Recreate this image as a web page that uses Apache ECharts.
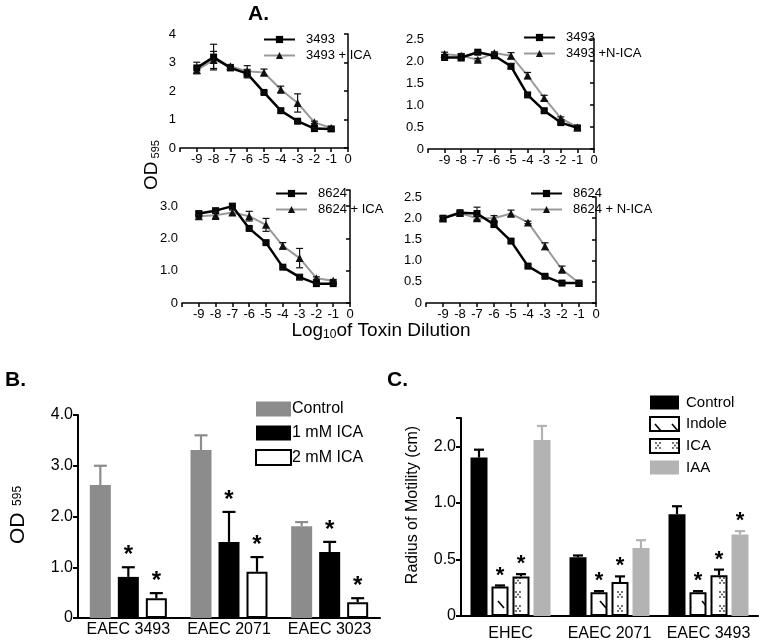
<!DOCTYPE html>
<html><head><meta charset="utf-8">
<script src="https://cdn.jsdelivr.net/npm/echarts@6/dist/echarts.min.js"></script>
<style>html,body{margin:0;padding:0;background:#fff}#c{width:759px;height:644px}</style>
</head><body><div id="c"></div><script>
const FONT = '"Liberation Sans", Arial, Helvetica, sans-serif';

// ---------- Panel A data ----------
const dilution = [-9, -8, -7, -6, -5, -4, -3, -2, -1];
const a3493 = [2.81, 3.19, 2.81, 2.61, 1.95, 1.31, 0.94, 0.68, 0.67];
const a3493Err = [0.2, 0.45, 0.05, 0.15, 0.04, 0.06, 0.04, 0.03, 0.03];
const a3493ICA = [2.73, 3.09, 2.87, 2.69, 2.65, 2.05, 1.58, 0.9, 0.7];
const a3493ICAErr = [0.1, 0.3, 0.06, 0.2, 0.12, 0.12, 0.32, 0.04, 0.04];

const b3493 = [2.08, 2.08, 2.2, 2.12, 1.88, 1.23, 0.87, 0.6, 0.48];
const b3493Err = [0.05, 0.08, 0.03, 0.04, 0.06, 0.04, 0.03, 0.03, 0.05];
const b3493NICA = [2.16, 2.12, 2.03, 2.18, 2.12, 1.67, 1.16, 0.7, 0.49];
const b3493NICAErr = [0.04, 0.05, 0.03, 0.03, 0.07, 0.07, 0.06, 0.03, 0.04];

const c8624 = [2.77, 2.86, 3.0, 2.31, 1.87, 1.11, 0.8, 0.6, 0.6];
const c8624Err = [0.06, 0.06, 0.05, 0.04, 0.04, 0.04, 0.07, 0.03, 0.03];
const c8624ICA = [2.69, 2.72, 2.8, 2.69, 2.42, 1.77, 1.39, 0.77, 0.69];
const c8624ICAErr = [0.05, 0.13, 0.08, 0.15, 0.2, 0.1, 0.3, 0.04, 0.04];

const d8624 = [2.0, 2.13, 2.11, 1.85, 1.46, 0.87, 0.63, 0.47, 0.47];
const d8624Err = [0.05, 0.04, 0.15, 0.04, 0.03, 0.03, 0.03, 0.03, 0.03];
const d8624NICA = [1.99, 2.12, 2.0, 2.0, 2.11, 1.9, 1.34, 0.79, 0.47];
const d8624NICAErr = [0.05, 0.04, 0.06, 0.06, 0.08, 0.03, 0.08, 0.08, 0.03];

const aNames = [
  ['3493', '3493 + ICA'],
  ['3493', '3493 +N-ICA'],
  ['8624', '8624 + ICA'],
  ['8624', '8624 + N-ICA']
];
const aBlack = [a3493, b3493, c8624, d8624];
const aBlackErr = [a3493Err, b3493Err, c8624Err, d8624Err];
const aGray = [a3493ICA, b3493NICA, c8624ICA, d8624NICA];
const aGrayErr = [a3493ICAErr, b3493NICAErr, c8624ICAErr, d8624NICAErr];
const aYMax = [4, 2.5, 3.5, 2.5];
const aYInterval = [1, 0.5, 1, 0.5];

// ---------- Panel B data ----------
const bCategories = ['EAEC 3493', 'EAEC 2071', 'EAEC 3023'];
const bSeriesNames = ['Control', '1 mM ICA', '2 mM ICA'];
const bControl = [2.62, 3.31, 1.81];
const bControlErrTop = [3.0, 3.6, 1.89];
const b1mM = [0.81, 1.5, 1.3];
const b1mMErrTop = [1.0, 2.09, 1.5];
const b2mM = [0.39, 0.91, 0.31];
const b2mMErrTop = [0.49, 1.2, 0.39];
const bSig = [[0, 0, 0], [1, 1, 1], [1, 1, 1]];
const bYTicks = ['0', '1.0', '2.0', '3.0', '4.0'];

// ---------- Panel C data (real units; axis shows 0, 0.5, 1.0, 2.0 evenly spaced) ----------
const cCategories = ['EHEC', 'EAEC 2071', 'EAEC 3493'];
const cSeriesNames = ['Control', 'Indole', 'ICA', 'IAA'];
const cControl = [1.80, 0.52, 0.90];
const cControlErrTop = [1.94, 0.535, 0.97];
const cIndole = [0.26, 0.21, 0.21];
const cIndoleErrTop = [0.27, 0.22, 0.22];
const cICA = [0.35, 0.30, 0.36];
const cICAErrTop = [0.37, 0.35, 0.41];
const cIAA = [2.11, 0.60, 0.72];
const cIAAErrTop = [2.36, 0.67, 0.75];
const cSig = [[0, 0, 0], [1, 1, 1], [1, 1, 1], [0, 0, 1]];
const cYTicks = ['0', '0.5', '1.0', '2.0'];

// piecewise scale of panel C's y axis: 1.0..2.0 occupies same length as 0.5
const toDisp = v => v <= 1 ? v : 1 + (v - 1) / 2;

// ---------- patterns ----------
function hatchPattern() {
  const c = document.createElement('canvas'); c.width = 17; c.height = 22;
  const g = c.getContext('2d'); g.fillStyle = '#fff'; g.fillRect(0, 0, 17, 22);
  g.strokeStyle = '#000'; g.lineWidth = 1.6; g.beginPath(); g.moveTo(5, 7); g.lineTo(11, 14); g.stroke();
  return c;
}
function dotPattern() {
  const c = document.createElement('canvas'); c.width = 17; c.height = 14;
  const g = c.getContext('2d'); g.fillStyle = '#fff'; g.fillRect(0, 0, 17, 14);
  g.fillStyle = '#333';
  [[6, 4], [10, 4], [8, 6.5], [6, 9], [10, 9]].forEach(p => { g.beginPath(); g.arc(p[0], p[1], 0.9, 0, Math.PI * 2); g.fill(); });
  return c;
}
const hatchImg = hatchPattern();
const dotImg = dotPattern();

// ---------- layout ----------
const gridsA = [
  { left: 180, top: 34, width: 168, height: 114 },
  { left: 428, top: 39, width: 166, height: 110 },
  { left: 182, top: 190, width: 168, height: 113 },
  { left: 426, top: 197, width: 170, height: 106 }
];
const gridB = { left: 78, top: 415, width: 302, height: 203 };
const gridC = { left: 461, top: 418, width: 297, height: 198 };

const grids = gridsA.concat([gridB, gridC]);
const xAxes = [], yAxes = [], series = [];

gridsA.forEach((g, i) => {
  xAxes.push({
    gridIndex: i, type: 'value', min: -10, max: 0, interval: 1,
    axisLine: { lineStyle: { color: '#000', width: 1.5 } },
    axisTick: { length: 4, lineStyle: { color: '#000', width: 1.5 } },
    splitLine: { show: false },
    axisLabel: { color: '#000', fontFamily: FONT, fontSize: 13, margin: 5,
      formatter: v => v === -10 ? '' : String(v) }
  });
  yAxes.push({
    gridIndex: i, type: 'value', min: 0, max: aYMax[i], interval: aYInterval[i],
    axisLine: { show: true, lineStyle: { color: '#000', width: 1.5 } },
    axisTick: { show: true, length: 4, lineStyle: { color: '#000', width: 1.5 } },
    splitLine: { show: false },
    axisLabel: { color: '#000', fontFamily: FONT, fontSize: 13, margin: 4,
      formatter: v => {
        if (v === 0) return '0';
        if (Math.abs(v / aYInterval[i] - Math.round(v / aYInterval[i])) > 1e-6) return '';
        return i === 0 ? String(v) : v.toFixed(1);
      } }
  });
  series.push({
    name: aNames[i][1], type: 'line', xAxisIndex: i, yAxisIndex: i,
    data: dilution.map((x, k) => [x, aGray[i][k]]),
    symbol: 'triangle', symbolSize: 8,
    lineStyle: { color: '#9a9a9a', width: 2 }, itemStyle: { color: '#111' }, z: 2
  });
  series.push({
    name: aNames[i][0], type: 'line', xAxisIndex: i, yAxisIndex: i,
    data: dilution.map((x, k) => [x, aBlack[i][k]]),
    symbol: 'rect', symbolSize: 7,
    lineStyle: { color: '#000', width: 2.5 }, itemStyle: { color: '#000' }, z: 3
  });
  const errData = [];
  dilution.forEach((x, k) => {
    errData.push([x, aBlack[i][k] - aBlackErr[i][k], aBlack[i][k] + aBlackErr[i][k]]);
    errData.push([x, aGray[i][k] - aGrayErr[i][k], aGray[i][k] + aGrayErr[i][k]]);
  });
  series.push({
    type: 'custom', xAxisIndex: i, yAxisIndex: i, data: errData, z: 4, silent: true,
    renderItem: (params, api) => {
      const x = api.value(0);
      const lo = api.coord([x, api.value(1)]), hi = api.coord([x, api.value(2)]);
      const st = { stroke: '#111', lineWidth: 1.2 };
      return { type: 'group', children: [
        { type: 'line', shape: { x1: lo[0], y1: lo[1], x2: hi[0], y2: hi[1] }, style: st },
        { type: 'line', shape: { x1: hi[0] - 3.5, y1: hi[1], x2: hi[0] + 3.5, y2: hi[1] }, style: st },
        { type: 'line', shape: { x1: lo[0] - 3.5, y1: lo[1], x2: lo[0] + 3.5, y2: lo[1] }, style: st }
      ] };
    }
  });
});

// ---------- Panel B ----------
xAxes.push({
  gridIndex: 4, type: 'category', data: bCategories,
  axisLine: { lineStyle: { color: '#000', width: 2 } },
  axisTick: { alignWithLabel: true, length: 5, lineStyle: { color: '#000', width: 2 } },
  axisLabel: { color: '#000', fontFamily: FONT, fontSize: 16, margin: 4, interval: 0 }
});
yAxes.push({
  gridIndex: 4, type: 'value', min: 0, max: 4, interval: 1,
  axisLine: { show: true, lineStyle: { color: '#000', width: 2 } },
  axisTick: { show: true, length: 5, lineStyle: { color: '#000', width: 2 } },
  splitLine: { show: false },
  axisLabel: { color: '#000', fontFamily: FONT, fontSize: 16, margin: 5,
    formatter: v => bYTicks[Math.round(v)] }
});
const bVals = [bControl, b1mM, b2mM];
const bTops = [bControlErrTop, b1mMErrTop, b2mMErrTop];
const bStyles = [
  { color: '#8c8c8c' },
  { color: '#000' },
  { color: '#fff', borderColor: '#000', borderWidth: 2 }
];
const bErrColor = ['#8c8c8c', '#000', '#000'];
const B_BAR = 21, B_GAP = 7;
bVals.forEach((vals, s) => {
  series.push({
    name: 'B ' + bSeriesNames[s], type: 'bar', xAxisIndex: 4, yAxisIndex: 4,
    data: vals, barWidth: B_BAR, barGap: (B_GAP / B_BAR * 100) + '%',
    itemStyle: bStyles[s], z: 2
  });
});
const bErrData = [];
bVals.forEach((vals, s) => vals.forEach((v, c) => bErrData.push([c, s, v, bTops[s][c], bSig[s][c]])));
series.push({
  type: 'custom', xAxisIndex: 4, yAxisIndex: 4, data: bErrData, z: 1, silent: true,
  renderItem: (params, api) => {
    const c = api.value(0), s = api.value(1);
    const base = api.coord([c, api.value(2)]), top = api.coord([c, api.value(3)]);
    const x = base[0] + (s - 1) * (B_BAR + B_GAP);
    const st = { stroke: bErrColor[s], lineWidth: 2.2 };
    const ch = [
      { type: 'line', shape: { x1: x, y1: base[1], x2: x, y2: top[1] }, style: st },
      { type: 'line', shape: { x1: x - 6.5, y1: top[1], x2: x + 6.5, y2: top[1] }, style: st }
    ];
    if (api.value(4)) ch.push({ type: 'text', x: x, y: top[1] - 12,
      style: { text: '*', font: 'bold 24px ' + FONT, fill: '#000', align: 'center', verticalAlign: 'middle' } });
    return { type: 'group', children: ch };
  }
});

// ---------- Panel C ----------
xAxes.push({
  gridIndex: 5, type: 'category', data: cCategories,
  axisLine: { lineStyle: { color: '#000', width: 2 } },
  axisTick: { alignWithLabel: true, length: 5, lineStyle: { color: '#000', width: 2 } },
  axisLabel: { color: '#000', fontFamily: FONT, fontSize: 16, margin: 10, interval: 0 }
});
yAxes.push({
  gridIndex: 5, type: 'value', min: 0, max: 1.75, interval: 0.5,
  axisLine: { show: true, lineStyle: { color: '#000', width: 2 } },
  axisTick: { show: true, length: 5, lineStyle: { color: '#000', width: 2 } },
  splitLine: { show: false },
  axisLabel: { color: '#000', fontFamily: FONT, fontSize: 16, margin: 5,
    formatter: v => { const k = Math.round(v / 0.5); return Math.abs(v - k * 0.5) < 1e-6 ? (cYTicks[k] || '') : ''; } }
});
const cVals = [cControl, cIndole, cICA, cIAA];
const cTops = [cControlErrTop, cIndoleErrTop, cICAErrTop, cIAAErrTop];
const cStyles = [
  { color: '#000' },
  { color: { image: hatchImg, repeat: 'repeat' }, borderColor: '#000', borderWidth: 2 },
  { color: { image: dotImg, repeat: 'repeat' }, borderColor: '#000', borderWidth: 2 },
  { color: '#b3b3b3' }
];
const cErrColor = ['#000', '#000', '#000', '#b3b3b3'];
const C_BAR = 17, C_GAP = 4;
cVals.forEach((vals, s) => {
  series.push({
    name: 'C ' + cSeriesNames[s], type: 'bar', xAxisIndex: 5, yAxisIndex: 5,
    data: vals.map(toDisp), barWidth: C_BAR, barGap: (C_GAP / C_BAR * 100) + '%',
    itemStyle: cStyles[s], z: 2
  });
});
const cErrData = [];
cVals.forEach((vals, s) => vals.forEach((v, c) => cErrData.push([c, s, toDisp(v), toDisp(cTops[s][c]), cSig[s][c]])));
series.push({
  type: 'custom', xAxisIndex: 5, yAxisIndex: 5, data: cErrData, z: 1, silent: true,
  renderItem: (params, api) => {
    const c = api.value(0), s = api.value(1);
    const base = api.coord([c, api.value(2)]), top = api.coord([c, api.value(3)]);
    const x = base[0] + (s - 1.5) * (C_BAR + C_GAP);
    const st = { stroke: cErrColor[s], lineWidth: 2.2 };
    const ch = [
      { type: 'line', shape: { x1: x, y1: base[1], x2: x, y2: top[1] }, style: st },
      { type: 'line', shape: { x1: x - 5, y1: top[1], x2: x + 5, y2: top[1] }, style: st }
    ];
    if (api.value(4)) ch.push({ type: 'text', x: x, y: top[1] - 10,
      style: { text: '*', font: 'bold 22px ' + FONT, fill: '#000', align: 'center', verticalAlign: 'middle' } });
    return { type: 'group', children: ch };
  }
});

// ---------- legends ----------
const legA = [
  { left: 263, top: 33 }, { left: 523, top: 31 }, { left: 275, top: 187 }, { left: 530, top: 187 }
].map((p, i) => ({
  left: p.left, top: p.top, padding: 0, orient: 'vertical', itemWidth: 31, itemHeight: 9, itemGap: 3,
  data: aNames[i], selectedMode: false,
  textStyle: { color: '#000', fontFamily: FONT, fontSize: 13, padding: [0, 0, 0, 6] }
}));
const legB = {
  left: 255, top: 401, padding: 0, orient: 'vertical', itemWidth: 35, itemHeight: 15, itemGap: 8, icon: 'rect',
  selectedMode: false, data: bSeriesNames.map(n => 'B ' + n),
  formatter: n => n.slice(2),
  textStyle: { color: '#000', fontFamily: FONT, fontSize: 16, padding: [0, 0, 0, -4] }
};
const legC = {
  left: 649, top: 395, padding: 0, orient: 'vertical', itemWidth: 29, itemHeight: 14, itemGap: 6, icon: 'rect',
  selectedMode: false, data: cSeriesNames.map(n => 'C ' + n),
  formatter: n => n.slice(2),
  textStyle: { color: '#000', fontFamily: FONT, fontSize: 15, padding: [0, 0, 0, 2] }
};

// ---------- text ----------
const graphic = [
  { type: 'text', left: 248, top: 4, style: { text: 'A.', font: 'bold 21px ' + FONT, fill: '#000' } },
  { type: 'text', left: 5, top: 370, style: { text: 'B.', font: 'bold 21px ' + FONT, fill: '#000' } },
  { type: 'text', left: 387, top: 370, style: { text: 'C.', font: 'bold 21px ' + FONT, fill: '#000' } },
  { type: 'text', x: 152, y: 165, rotation: Math.PI / 2,
    style: { text: '{a|OD}{b| 595}', align: 'center', verticalAlign: 'middle',
      rich: { a: { fontSize: 19, fontFamily: FONT, fill: '#000' }, b: { fontSize: 11, fontFamily: FONT, fill: '#000', verticalAlign: 'bottom' } } } },
  { type: 'text', x: 381, y: 331,
    style: { text: '{a|Log}{b|10}{a|of Toxin Dilution}', align: 'center', verticalAlign: 'middle',
      rich: { a: { fontSize: 19, fontFamily: FONT, fill: '#000' }, b: { fontSize: 12, fontFamily: FONT, fill: '#000', verticalAlign: 'bottom', padding: [6, 0, 0, 0] } } } },
  { type: 'text', x: 18, y: 515, rotation: Math.PI / 2,
    style: { text: '{a|OD}{b|  595}', align: 'center', verticalAlign: 'middle',
      rich: { a: { fontSize: 21, fontFamily: FONT, fill: '#000' }, b: { fontSize: 12, fontFamily: FONT, fill: '#000' } } } },
  { type: 'text', x: 413, y: 505, rotation: Math.PI / 2,
    style: { text: 'Radius of Motility (cm)', font: '16px ' + FONT, fill: '#000', align: 'center', verticalAlign: 'middle' } }
];

const chart = echarts.init(document.getElementById('c'), null, { renderer: 'canvas' });
chart.setOption({
  animation: false,
  backgroundColor: '#fff',
  grid: grids,
  xAxis: xAxes,
  yAxis: yAxes,
  legend: legA.concat([legB, legC]),
  series: series,
  graphic: graphic
});
</script></body></html>
